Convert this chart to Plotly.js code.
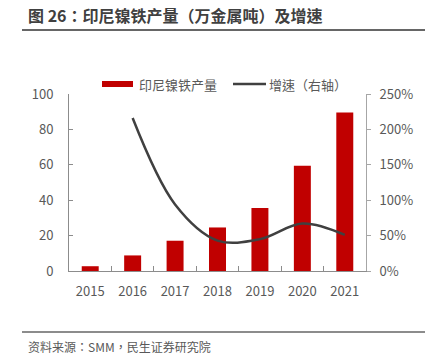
<!DOCTYPE html>
<html>
<head>
<meta charset="utf-8">
<script src="https://cdn.plot.ly/plotly-3.0.1.min.js"></script>
<style>html,body{margin:0;padding:0;background:#fff;}#chart{width:431px;height:359px;}</style>
</head>
<body>
<div id="chart"></div>
<script>
var years = ['2015','2016','2017','2018','2019','2020','2021'];
var output = [2.7, 8.8, 17.1, 24.6, 35.6, 59.4, 89.5];
var growth = [null, 2.16, 0.94, 0.43, 0.45, 0.67, 0.51];
var leftTicks = [0, 20, 40, 60, 80, 100];
var rightTicks = [0, 0.5, 1.0, 1.5, 2.0, 2.5];

var W = 431, H = 359;
var L = 69, R = 366, T = 94, B = 271;
function px(x){ return (x - L) / (R - L); }
function py(y){ return (B - y) / (B - T); }

var font = "'Noto Sans CJK SC', 'Noto Sans', sans-serif";
var fontTC = "'Noto Sans CJK TC', 'Noto Sans CJK SC', sans-serif";
var grey = '#595959';

var traces = [
  {type:'bar', x:years, y:output, name:'印尼镍铁产量', marker:{color:'#C00000'}, showlegend:false},
  {type:'scatter', mode:'lines', x:years, y:growth, yaxis:'y2', name:'增速（右轴）', line:{color:'#404040', width:2.5, shape:'spline', smoothing:1}, connectgaps:false, showlegend:false}
];

var layout = {
  width:W, height:H,
  margin:{l:L, r:W-R, t:T, b:H-B, pad:0},
  paper_bgcolor:'#fff', plot_bgcolor:'#fff',
  font:{family:font, size:12, color:grey},
  bargap:0.6,
  xaxis:{type:'category', showline:true, linecolor:'#8c8c8c', linewidth:1, ticks:'inside', tickson:'boundaries', ticklen:5, tickcolor:'#8c8c8c', showgrid:false, tickfont:{size:13, color:grey}, ticklabelstandoff:8, fixedrange:true},
  yaxis:{range:[0,100], tickvals:leftTicks, showline:true, linecolor:'#8c8c8c', linewidth:1, ticks:'inside', ticklen:4, tickcolor:'#8c8c8c', showgrid:false, zeroline:false, tickfont:{size:13, color:grey}, ticklabelstandoff:12},
  yaxis2:{range:[0,2.5], tickvals:rightTicks, tickformat:'.0%', overlaying:'y', side:'right', showline:true, linecolor:'#a6a6a6', linewidth:1, ticks:'outside', ticklen:4, tickcolor:'#a6a6a6', showgrid:false, zeroline:false, tickfont:{size:13, color:grey}, ticklabelstandoff:6},
  shapes:[
    {type:'line', xref:'paper', yref:'paper', x0:px(22), x1:px(425), y0:py(30), y1:py(30), line:{color:'#666666', width:2}},
    {type:'line', xref:'paper', yref:'paper', x0:px(22), x1:px(425), y0:py(332), y1:py(332), line:{color:'#666666', width:1.5}},
    {type:'rect', xref:'paper', yref:'paper', x0:px(102), x1:px(133), y0:py(81), y1:py(87), fillcolor:'#C00000', line:{width:0}},
    {type:'line', xref:'paper', yref:'paper', x0:px(233), x1:px(266), y0:py(84), y1:py(84), line:{color:'#404040', width:2.5}}
  ],
  annotations:[
    {xref:'paper', yref:'paper', x:px(26), y:py(15), xanchor:'left', yanchor:'middle', showarrow:false, text:'<b>图 26：印尼镍铁产量（万金属吨）及增速</b>', font:{family:fontTC, size:16, color:'#404040'}},
    {xref:'paper', yref:'paper', x:px(137), y:py(84), xanchor:'left', yanchor:'middle', showarrow:false, text:'印尼镍铁产量', font:{family:font, size:13, color:grey}},
    {xref:'paper', yref:'paper', x:px(267), y:py(84), xanchor:'left', yanchor:'middle', showarrow:false, text:'增速（右轴）', font:{family:fontTC, size:13, color:grey}},
    {xref:'paper', yref:'paper', x:px(26), y:py(346), xanchor:'left', yanchor:'middle', showarrow:false, text:'资料来源：SMM，民生证券研究院', font:{family:fontTC, size:12, color:grey}}
  ]
};

Plotly.newPlot('chart', traces, layout, {displayModeBar:false, staticPlot:true});
</script>
</body>
</html>
